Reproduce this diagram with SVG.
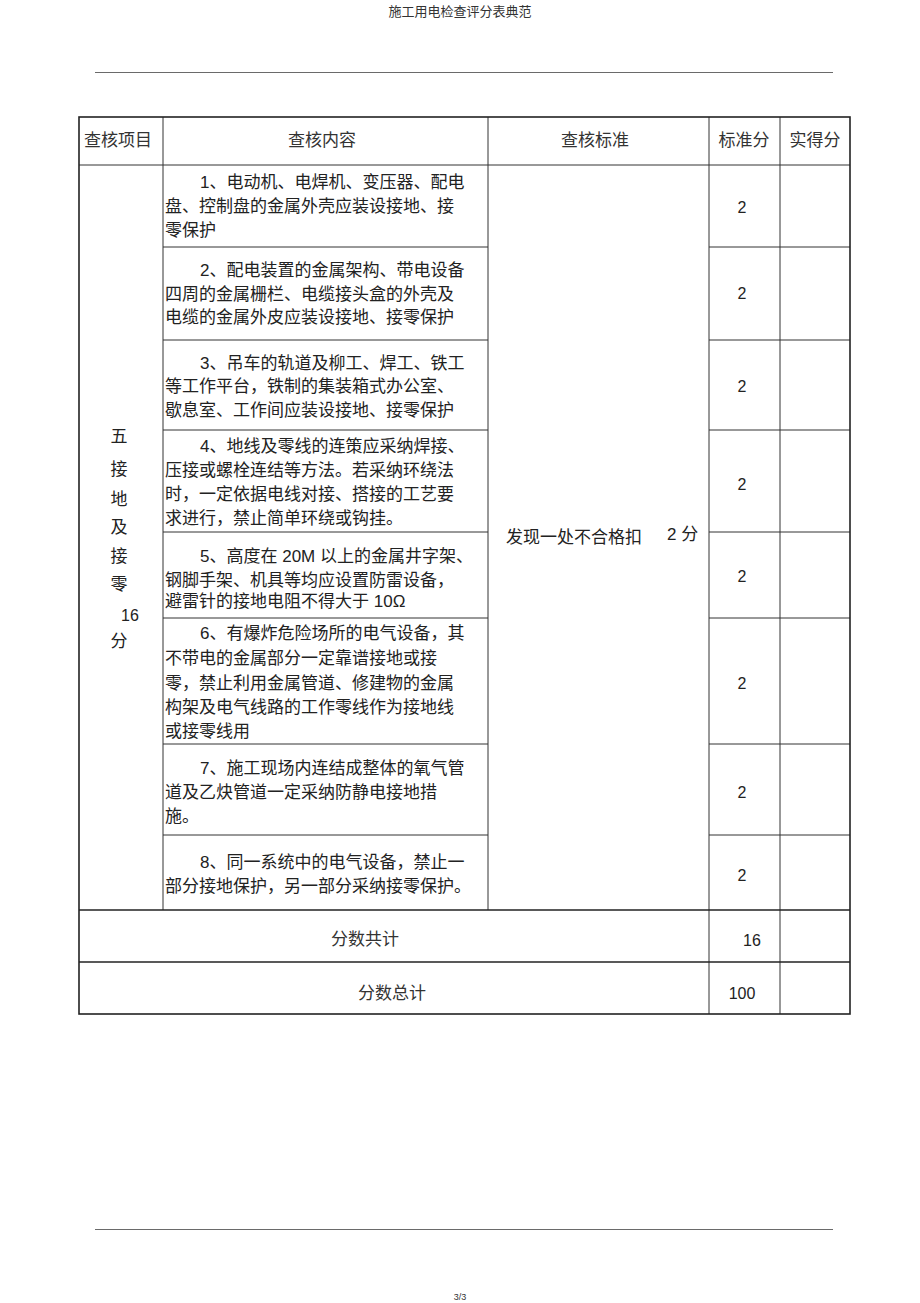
<svg xmlns="http://www.w3.org/2000/svg" width="920" height="1303" viewBox="0 0 920 1303">
<style>
text{font-family:"Liberation Sans","Noto Sans CJK SC",sans-serif;fill:#222;}
.t{font-size:17px;}
.h{font-size:17px;text-anchor:middle;fill:#333;}
.c{font-size:17px;text-anchor:middle;}
.n{font-size:16px;text-anchor:middle;}
.thin{stroke:#333;stroke-width:1;fill:none;}
.thick{stroke:#222;stroke-width:1.6;fill:none;}
.rule{stroke:#444;stroke-width:0.8;}
</style>
<rect width="920" height="1303" fill="#fff"/>
<g id="page-header">
<text x="460" y="16" text-anchor="middle" style="font-size:13px;fill:#333">施工用电检查评分表典范</text>
<line x1="95" y1="72.5" x2="833" y2="72.5" class="rule"/>
</g>
<g id="grid">
<line x1="163" y1="117" x2="163" y2="910" class="thin"/>
<line x1="488" y1="117" x2="488" y2="910" class="thin"/>
<line x1="709" y1="117" x2="709" y2="1014" class="thin"/>
<line x1="780" y1="117" x2="780" y2="1014" class="thin"/>
<line x1="79" y1="165" x2="850" y2="165" class="thin"/>
<line x1="163" y1="247" x2="488" y2="247" class="thin"/>
<line x1="709" y1="247" x2="850" y2="247" class="thin"/>
<line x1="163" y1="340" x2="488" y2="340" class="thin"/>
<line x1="709" y1="340" x2="850" y2="340" class="thin"/>
<line x1="163" y1="430" x2="488" y2="430" class="thin"/>
<line x1="709" y1="430" x2="850" y2="430" class="thin"/>
<line x1="163" y1="532" x2="488" y2="532" class="thin"/>
<line x1="709" y1="532" x2="850" y2="532" class="thin"/>
<line x1="163" y1="618" x2="488" y2="618" class="thin"/>
<line x1="709" y1="618" x2="850" y2="618" class="thin"/>
<line x1="163" y1="744" x2="488" y2="744" class="thin"/>
<line x1="709" y1="744" x2="850" y2="744" class="thin"/>
<line x1="163" y1="835" x2="488" y2="835" class="thin"/>
<line x1="709" y1="835" x2="850" y2="835" class="thin"/>
<line x1="79" y1="910" x2="850" y2="910" class="thick"/>
<line x1="79" y1="962" x2="850" y2="962" class="thick"/>
<rect x="79" y="117" width="771" height="897" class="thick"/>
</g>
<g id="header-row">
<text x="118" y="146" class="h">查核项目</text>
<text x="322" y="146" class="h">查核内容</text>
<text x="595" y="146" class="h">查核标准</text>
<text x="744" y="146" class="h">标准分</text>
<text x="815" y="146" class="h">实得分</text>
</g>
<g id="category">
<text x="119" y="442" class="c">五</text>
<text x="119" y="475" class="c">接</text>
<text x="119" y="505" class="c">地</text>
<text x="119" y="533" class="c">及</text>
<text x="119" y="562" class="c">接</text>
<text x="119" y="590" class="c">零</text>
<text x="130" y="621" class="n">16</text>
<text x="119" y="647" class="c">分</text>
</g>
<g id="standard">
<text x="506" y="543" class="t">发现一处不合格扣</text>
<text x="667" y="540" class="t">2 分</text>
</g>
<g id="item1">
<text x="200" y="188" class="t">1、电动机、电焊机、变压器、配电</text>
<text x="165" y="212" class="t">盘、控制盘的金属外壳应装设接地、接</text>
<text x="165" y="236" class="t">零保护</text>
<text x="742" y="213" class="n">2</text>
</g>
<g id="item2">
<text x="200" y="276" class="t">2、配电装置的金属架构、带电设备</text>
<text x="165" y="300" class="t">四周的金属栅栏、电缆接头盒的外壳及</text>
<text x="165" y="323" class="t">电缆的金属外皮应装设接地、接零保护</text>
<text x="742" y="299" class="n">2</text>
</g>
<g id="item3">
<text x="200" y="369" class="t">3、吊车的轨道及柳工、焊工、铁工</text>
<text x="165" y="392" class="t">等工作平台，铁制的集装箱式办公室、</text>
<text x="165" y="416" class="t">歇息室、工作间应装设接地、接零保护</text>
<text x="742" y="392" class="n">2</text>
</g>
<g id="item4">
<text x="200" y="452" class="t">4、地线及零线的连策应采纳焊接、</text>
<text x="165" y="476" class="t">压接或螺栓连结等方法。若采纳环绕法</text>
<text x="165" y="500" class="t">时，一定依据电线对接、搭接的工艺要</text>
<text x="165" y="524" class="t">求进行，禁止简单环绕或钩挂。</text>
<text x="742" y="490" class="n">2</text>
</g>
<g id="item5">
<text x="200" y="562" class="t">5、高度在 20M 以上的金属井字架、</text>
<text x="165" y="586" class="t">钢脚手架、机具等均应设置防雷设备，</text>
<text x="165" y="607" class="t">避雷针的接地电阻不得大于 10Ω</text>
<text x="742" y="582" class="n">2</text>
</g>
<g id="item6">
<text x="200" y="639" class="t">6、有爆炸危险场所的电气设备，其</text>
<text x="165" y="664" class="t">不带电的金属部分一定靠谱接地或接</text>
<text x="165" y="689" class="t">零，禁止利用金属管道、修建物的金属</text>
<text x="165" y="713" class="t">构架及电气线路的工作零线作为接地线</text>
<text x="165" y="737" class="t">或接零线用</text>
<text x="742" y="689" class="n">2</text>
</g>
<g id="item7">
<text x="200" y="774" class="t">7、施工现场内连结成整体的氧气管</text>
<text x="165" y="798" class="t">道及乙炔管道一定采纳防静电接地措</text>
<text x="165" y="822" class="t">施。</text>
<text x="742" y="798" class="n">2</text>
</g>
<g id="item8">
<text x="200" y="868" class="t">8、同一系统中的电气设备，禁止一</text>
<text x="165" y="892" class="t">部分接地保护，另一部分采纳接零保护。</text>
<text x="742" y="881" class="n">2</text>
</g>
<g id="subtotal">
<text x="365" y="945" class="h">分数共计</text>
<text x="752" y="946" class="n">16</text>
</g>
<g id="total">
<text x="392" y="999" class="h">分数总计</text>
<text x="742" y="999" class="n">100</text>
</g>
<g id="page-footer">
<line x1="95" y1="1229.5" x2="833" y2="1229.5" class="rule"/>
<text x="460" y="1300" text-anchor="middle" style="font-size:9px;fill:#333">3/3</text>
</g>
</svg>
